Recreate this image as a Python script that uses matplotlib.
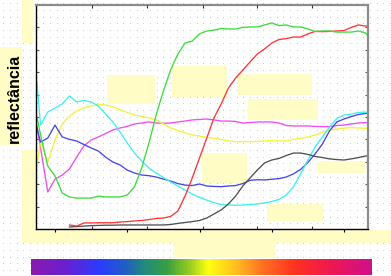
import numpy as np
import matplotlib
matplotlib.use("Agg")
import matplotlib.pyplot as plt
from matplotlib.patches import Rectangle
from matplotlib.colors import LinearSegmentedColormap

# ---- data (wavelength in nm, reflectance in %) ----
wavelength = [375, 380, 390, 400, 410, 420, 430, 440, 450, 460, 470, 480, 490, 500,
              510, 520, 530, 540, 550, 560, 570, 580, 590, 600, 610, 620, 630, 640,
              650, 660, 670, 680, 690, 700, 710, 720, 730, 740, 750, 760, 770, 780,
              790, 800, 810, 820, 830, 833]
nan = float("nan")
green = [50.0, 42.0, 28.1, 23.7, 16.1, 14.3, 13.8, 13.8, 13.8, 14.7, 14.3, 14.3, 14.3, 15.2,
         18.8, 27.2, 38.4, 50.9, 61.6, 71.0, 78.1, 83.0, 83.9, 87.1, 88.4, 88.8, 89.5, 89.3,
         89.3, 90.0, 90.2, 90.2, 91.1, 92.0, 90.8, 91.1, 90.2, 90.2, 89.3, 88.2, 88.4, 88.4,
         87.9, 87.9, 87.9, 88.4, 87.5, 86.2]
red = [nan, nan, nan, nan, nan, 1.8, 1.3, 2.7, 2.7, 2.8, 2.8, 2.8, 3.1, 3.3,
       3.6, 3.8, 4.2, 4.7, 4.9, 5.6, 8.0, 14.7, 22.8, 31.7, 40.6, 49.6, 55.8, 62.9,
       67.4, 71.0, 74.6, 78.1, 80.4, 83.0, 84.6, 85.0, 85.7, 85.7, 87.1, 88.2, 88.1, 88.2,
       88.4, 88.6, 90.0, 91.1, 90.6, 90.6]
black = [nan, nan, nan, nan, nan, 0.9, 1.1, 1.3, 1.5, 1.6, 1.7, 1.7, 1.8, 1.8,
         1.8, 1.8, 1.8, 1.8, 1.8, 2.0, 2.5, 2.9, 3.3, 3.8, 4.9, 6.7, 8.5, 11.2,
         14.7, 19.2, 22.8, 26.3, 29.5, 30.8, 31.5, 32.8, 33.9, 33.9, 33.3, 32.4, 31.9, 31.3,
         31.0, 30.8, 31.3, 31.9, 32.6, 32.6]
blue = [45.1, 38.8, 40.6, 46.4, 41.1, 40.0, 39.3, 37.7, 36.2, 34.8, 32.1, 29.9, 28.6, 26.3,
        25.0, 24.1, 23.8, 23.2, 22.3, 21.4, 20.3, 19.6, 19.4, 20.1, 19.2, 19.0, 18.9, 19.2,
        19.4, 20.3, 21.7, 22.0, 21.9, 22.2, 22.5, 23.2, 24.6, 26.6, 29.7, 33.5, 37.9, 43.8,
        47.8, 49.1, 50.2, 51.1, 51.6, 51.7]
cyan = [65.6, 46.4, 52.2, 54.0, 55.8, 59.4, 56.7, 57.4, 56.7, 54.9, 51.3, 47.8, 43.3, 38.4,
        33.9, 30.4, 27.2, 25.0, 23.0, 21.0, 19.2, 17.4, 15.6, 14.1, 12.9, 11.8, 10.9, 10.7,
        10.6, 10.7, 10.9, 11.2, 11.6, 12.3, 13.2, 15.2, 18.8, 24.6, 30.8, 36.6, 41.1, 45.5,
        49.3, 50.9, 51.3, 52.0, 52.2, 51.8]
yellow = [28.6, 38.8, 29.9, 39.7, 46.9, 50.4, 52.7, 54.0, 54.9, 55.6, 55.4, 54.5, 53.3, 52.0,
          50.9, 50.2, 49.6, 48.7, 46.9, 45.1, 44.0, 42.9, 42.0, 41.5, 40.8, 40.5, 40.0, 39.3,
          39.0, 39.0, 39.0, 39.1, 39.3, 39.5, 39.3, 39.3, 40.0, 40.5, 41.1, 42.0, 43.1, 44.0,
          44.6, 45.0, 45.3, 45.1, 44.9, 44.6]
magenta = [46.0, 36.2, 16.5, 22.3, 24.1, 26.8, 32.1, 37.1, 39.7, 41.1, 42.6, 44.2, 45.1, 45.8,
           46.9, 47.3, 47.8, 47.3, 47.2, 47.3, 47.8, 48.2, 48.7, 48.9, 49.1, 48.7, 48.2, 48.2,
           48.0, 47.3, 47.5, 47.8, 47.8, 47.8, 47.3, 46.2, 46.0, 46.0, 46.0, 45.8, 45.7, 45.7,
           46.2, 46.4, 46.9, 47.3, 47.5, 47.5]
ylabel_text = "reflectância"

series = [
    (magenta, "#f04cf0"),
    (yellow, "#f2f23c"),
    (blue, "#4646e6"),
    (cyan, "#3ef0f0"),
    (black, "#505050"),
    (red, "#ff3434"),
    (green, "#3ddc3d"),
]

W, H = 391, 276
fig = plt.figure(figsize=(W / 100, H / 100), dpi=100)
fig.patch.set_facecolor("white")

# dotted background texture
bg = np.ones((H, W, 3))
xs = np.round(np.arange(3.3, W, 20 / 3)).astype(int)
ys = np.round(np.arange(3.3, H, 20 / 3)).astype(int)
for yy in ys:
    for xx in xs:
        if xx < W and yy < H:
            bg[yy, xx] = (0.80, 0.80, 0.80)
bax = fig.add_axes([0, 0, 1, 1], zorder=-5)
bax.imshow(bg, interpolation="nearest", aspect="auto")
bax.set_axis_off()

def px2fig(x0, y0, x1, y1):
    return (x0 / W, 1 - y1 / H, (x1 - x0) / W, (y1 - y0) / H)

ax = fig.add_axes(list(px2fig(36, 5, 368, 229)))
ax.set_facecolor("none")
for vals, col in series:
    ax.plot(wavelength, vals, color=col, lw=0.95, zorder=2)

ax.set_xlim(373.7, 833.2)
ax.set_ylim(0, 100)
ax.set_xticks([400, 500, 600, 700, 800])
ax.set_xticklabels([])
ax.set_yticks(np.arange(10, 100, 10))
ax.set_yticklabels([])
ax.tick_params(axis="x", direction="out", length=2.5, width=0.8, color="black",
               top=False, bottom=True)
ax.tick_params(axis="y", direction="in", length=2, width=0.8, color="#555555",
               left=True, right=True)
for s in ["left", "bottom"]:
    ax.spines[s].set_color("black")
    ax.spines[s].set_linewidth(1.0)
for s in ["top", "right"]:
    ax.spines[s].set_color("#8c8c8c")
    ax.spines[s].set_linewidth(1.6)

tax = ax.twiny()
tax.set_xlim(ax.get_xlim())
tax.set_xticks([451, 527, 605, 680, 756])
tax.set_xticklabels([])
tax.tick_params(axis="x", direction="in", length=2.5, width=0.8, color="#333333",
                top=True, bottom=True)
for s in tax.spines.values():
    s.set_visible(False)

# pale boxes (blanked labels)
boxes = [
    (22, 0, 33, 43), (0, 47, 22, 145), (22, 150, 36, 243), (22, 230, 391, 243),
    (173, 243, 276, 258),
    (107, 75, 155, 104), (172, 66, 227, 97), (238, 74, 312, 95), (248, 99, 318, 120),
    (202, 153, 247, 183), (317, 161, 365, 173), (267, 204, 323, 221),
]
for b in boxes:
    x, y, w, h = px2fig(*b)
    ax.add_patch(Rectangle((x, y), w, h, transform=fig.transFigure, clip_on=False,
                           facecolor="#fffcc6", edgecolor="none", zorder=1))

fig.text(14 / W, 1 - 98 / H, ylabel_text, rotation=90, ha="center", va="center",
         fontsize=11.5, fontweight="bold", family=["Liberation Sans", "DejaVu Sans"])

# spectrum bar
spec = LinearSegmentedColormap.from_list("spec", [
    (0.0, "#8a1ab0"), (0.1, "#6a20d0"), (0.2, "#2a3cff"), (0.28, "#2060c0"),
    (0.33, "#208a80"), (0.4, "#3aa040"), (0.47, "#a0d020"), (0.52, "#ffff10"),
    (0.6, "#ffc020"), (0.68, "#ff7020"), (0.78, "#ff3020"), (0.88, "#f01850"),
    (1.0, "#d0108a")])
cax = fig.add_axes(list(px2fig(31, 259, 372, 275)))
cax.imshow(np.linspace(0, 1, 341)[None, :], cmap=spec, aspect="auto",
           interpolation="bilinear")
cax.set_axis_off()

fig.savefig("out.png", dpi=100)
